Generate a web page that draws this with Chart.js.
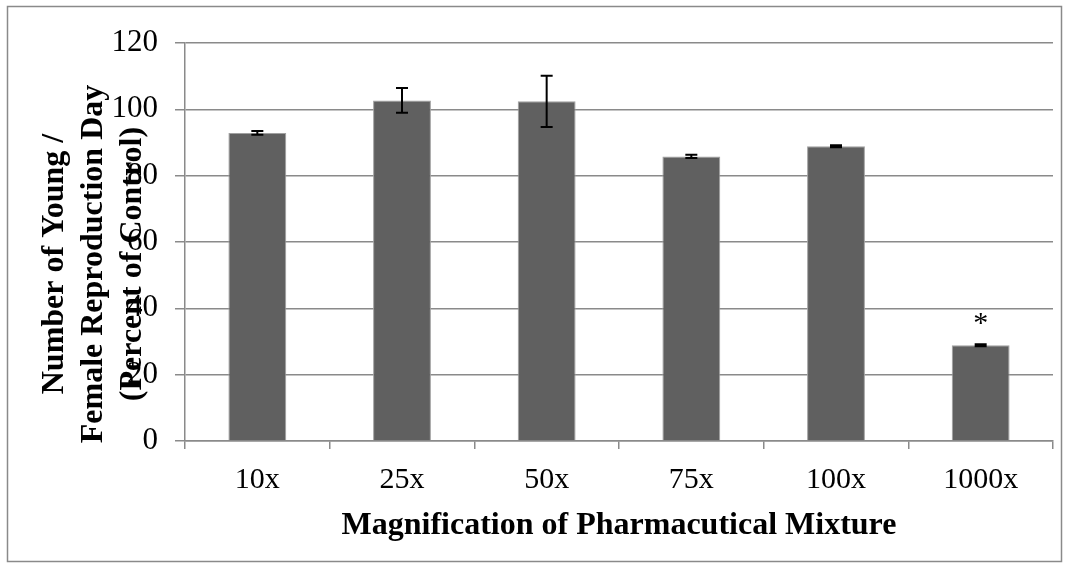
<!DOCTYPE html>
<html>
<head>
<meta charset="utf-8">
<script src="https://cdn.jsdelivr.net/npm/chart.js@4/dist/chart.umd.min.js"></script>
<style>
  html, body { margin: 0; padding: 0; background: #fff; }
  canvas { display: block; }
</style>
</head>
<body>
<canvas id="grafico" width="1068" height="568"></canvas>
<script>
// dados
const categorias = ['10x', '25x', '50x', '75x', '100x', '1000x'];
const valores = [92.9, 102.7, 102.4, 85.8, 88.9, 28.9];
const erros = [0.6, 3.7, 7.7, 0.5, 0.3, 0.3];
const marcas = ['', '', '', '', '', '*'];
const ticksY = [0, 20, 40, 60, 80, 100, 120];

const tituloY = ['Number of Young /', 'Female Reproduction Day', '(Percent of Control)'];
const tituloX = 'Magnification of Pharmacutical Mixture';

const fonte = 'Liberation Serif, Times New Roman, serif';
const cinzaGrade = '#8a8a8a';

// moldura externa do gráfico
const moldura = {
    id: 'moldura',
    beforeDraw(chart) {
        const ctx = chart.ctx;
        ctx.save();
        ctx.fillStyle = '#fff';
        ctx.fillRect(0, 0, chart.width, chart.height);
        ctx.strokeStyle = '#8a8a8a';
        ctx.lineWidth = 1.5;
        ctx.strokeRect(7.5, 6.5, 1054, 555);
        ctx.restore();
    }
};

// barras de erro e asterisco
const barrasErro = {
    id: 'barrasErro',
    afterDatasetsDraw(chart) {
        const ctx = chart.ctx;
        const y = chart.scales.y;
        const meta = chart.getDatasetMeta(0);
        ctx.save();
        ctx.strokeStyle = '#000';
        ctx.lineWidth = 2;
        meta.data.forEach((bar, i) => {
            const topo = y.getPixelForValue(valores[i] + erros[i]);
            const base = y.getPixelForValue(valores[i] - erros[i]);
            ctx.beginPath();
            ctx.moveTo(bar.x, topo);
            ctx.lineTo(bar.x, base);
            ctx.moveTo(bar.x - 6, topo);
            ctx.lineTo(bar.x + 6, topo);
            ctx.moveTo(bar.x - 6, base);
            ctx.lineTo(bar.x + 6, base);
            ctx.stroke();
            if (marcas[i]) {
                ctx.fillStyle = '#000';
                ctx.font = '30px ' + fonte;
                ctx.textAlign = 'center';
                ctx.textBaseline = 'middle';
                ctx.fillText(marcas[i], bar.x, topo - 20);
            }
        });
        ctx.restore();
    }
};

// título do eixo Y (sobreposto aos rótulos, como no original)
const tituloEixoY = {
    id: 'tituloEixoY',
    afterDraw(chart) {
        const ctx = chart.ctx;
        const posX = [55, 94, 133];
        ctx.save();
        ctx.fillStyle = '#000';
        ctx.font = 'bold 32px ' + fonte;
        ctx.textAlign = 'center';
        ctx.textBaseline = 'middle';
        tituloY.forEach((linha, i) => {
            ctx.save();
            ctx.translate(posX[i], 264);
            ctx.rotate(-Math.PI / 2);
            ctx.fillText(linha, 0, 0);
            ctx.restore();
        });
        ctx.restore();
    }
};

new Chart(document.getElementById('grafico'), {
    type: 'bar',
    data: {
        labels: categorias,
        datasets: [{
            data: valores,
            backgroundColor: '#606060',
            borderColor: '#a0a0a0',
            borderWidth: 1,
            barPercentage: 0.8,
            categoryPercentage: 0.5
        }]
    },
    options: {
        responsive: false,
        animation: false,
        maintainAspectRatio: false,
        devicePixelRatio: 1,
        layout: { padding: { left: 0, right: 15, top: 43, bottom: 0 } },
        plugins: {
            legend: { display: false },
            tooltip: { enabled: false }
        },
        scales: {
            x: {
                offset: true,
                grid: {
                    offset: true,
                    drawOnChartArea: false,
                    drawTicks: true,
                    tickLength: 8,
                    color: cinzaGrade,
                    lineWidth: 1.5
                },
                border: { display: true, color: cinzaGrade, width: 1.5 },
                ticks: { color: '#000', font: { family: fonte, size: 30 }, padding: 13 },
                title: {
                    display: true,
                    text: tituloX,
                    color: '#000',
                    font: { family: fonte, size: 32, weight: 'bold' },
                    padding: { top: 0, bottom: 23 }
                },
                afterFit(scale) { scale.height = 127; }
            },
            y: {
                min: 0,
                max: 120,
                afterBuildTicks(scale) { scale.ticks = ticksY.map(v => ({ value: v })); },
                grid: { color: cinzaGrade, lineWidth: 1.5, tickLength: 10 },
                border: { display: true, color: cinzaGrade, width: 1.5 },
                ticks: { color: '#000', font: { family: fonte, size: 31 }, padding: 17 },
                afterFit(scale) { scale.width = 185; }
            }
        }
    },
    plugins: [moldura, barrasErro, tituloEixoY]
});
</script>
</body>
</html>
